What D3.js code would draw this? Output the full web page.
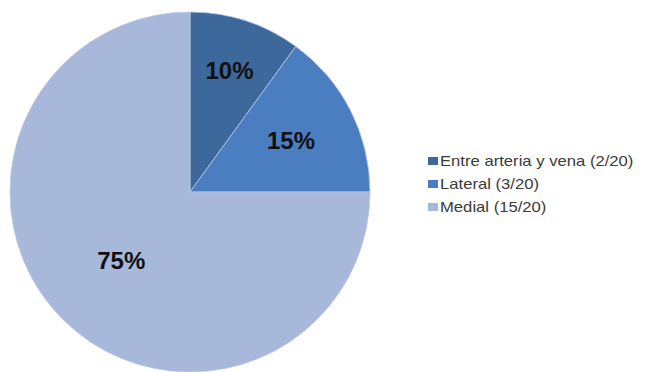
<!DOCTYPE html>
<html>
<head>
<meta charset="utf-8">
<script src="https://cdn.jsdelivr.net/npm/d3@7"></script>
<style>
  body { margin: 0; background: #fff; }
</style>
</head>
<body>
<div id="chart"></div>
<script>
var categories = ['Entre arteria y vena (2/20)', 'Lateral (3/20)', 'Medial (15/20)'];
var values = [2, 3, 15];
var percentLabels = ['10%', '15%', '75%'];
var colors = ['#3d689c', '#4a7ec0', '#a8b8da'];

var width = 645, height = 372;
var cx = 190, cy = 192, radius = 180;
var mainFont = 'Liberation Sans, Arial, sans-serif';
// how far out (fraction of radius) each label sits, like the source chart
var labelFrac = [0.71, 0.63, 0.54];

window.onload = function() {
    render();
};

function render() {
    var svg = d3.select('#chart').append('svg')
        .attr('width', width)
        .attr('height', height);

    var pie = d3.pie().sort(null).value(function(d) { return d; });
    var arcs = pie(values);
    var arc = d3.arc().innerRadius(0).outerRadius(radius);

    var g = svg.append('g').attr('transform', 'translate(' + cx + ',' + cy + ')');

    g.selectAll('path.slice')
        .data(arcs)
        .enter().append('path')
        .attr('class', 'slice')
        .attr('d', arc)
        .attr('fill', function(d, i) { return colors[i]; })
        .attr('stroke', '#b9c6e0')
        .attr('stroke-width', 0.8);

    // percent labels
    g.selectAll('text.pct')
        .data(arcs)
        .enter().append('text')
        .attr('class', 'pct')
        .attr('transform', function(d, i) {
            var r = radius * labelFrac[i];
            var c = d3.arc().innerRadius(r).outerRadius(r).centroid(d);
            return 'translate(' + c[0] + ',' + c[1] + ')';
        })
        .attr('text-anchor', 'middle')
        .attr('dy', '0.36em')
        .style('font-family', mainFont)
        .style('font-size', '24px')
        .style('font-weight', 'bold')
        .style('fill', '#111')
        .text(function(d, i) { return percentLabels[i]; });

    // legend
    var legend = svg.append('g').attr('transform', 'translate(428,161)');
    var rowY = d3.scalePoint().domain(d3.range(categories.length)).range([0, 46]);

    var rows = legend.selectAll('g.row')
        .data(categories)
        .enter().append('g')
        .attr('class', 'row')
        .attr('transform', function(d, i) { return 'translate(0,' + rowY(i) + ')'; });

    rows.append('rect')
        .attr('x', 0)
        .attr('y', -4)
        .attr('width', 10)
        .attr('height', 8)
        .attr('fill', function(d, i) { return colors[i]; });

    // source legend text is a bit wide, so stretch it horizontally
    rows.append('text')
        .attr('transform', 'translate(12,0) scale(1.19,1)')
        .attr('dy', '0.36em')
        .style('font-family', mainFont)
        .style('font-size', '14px')
        .style('fill', '#3a3a3a')
        .text(function(d) { return d; });
}
</script>
</body>
</html>
